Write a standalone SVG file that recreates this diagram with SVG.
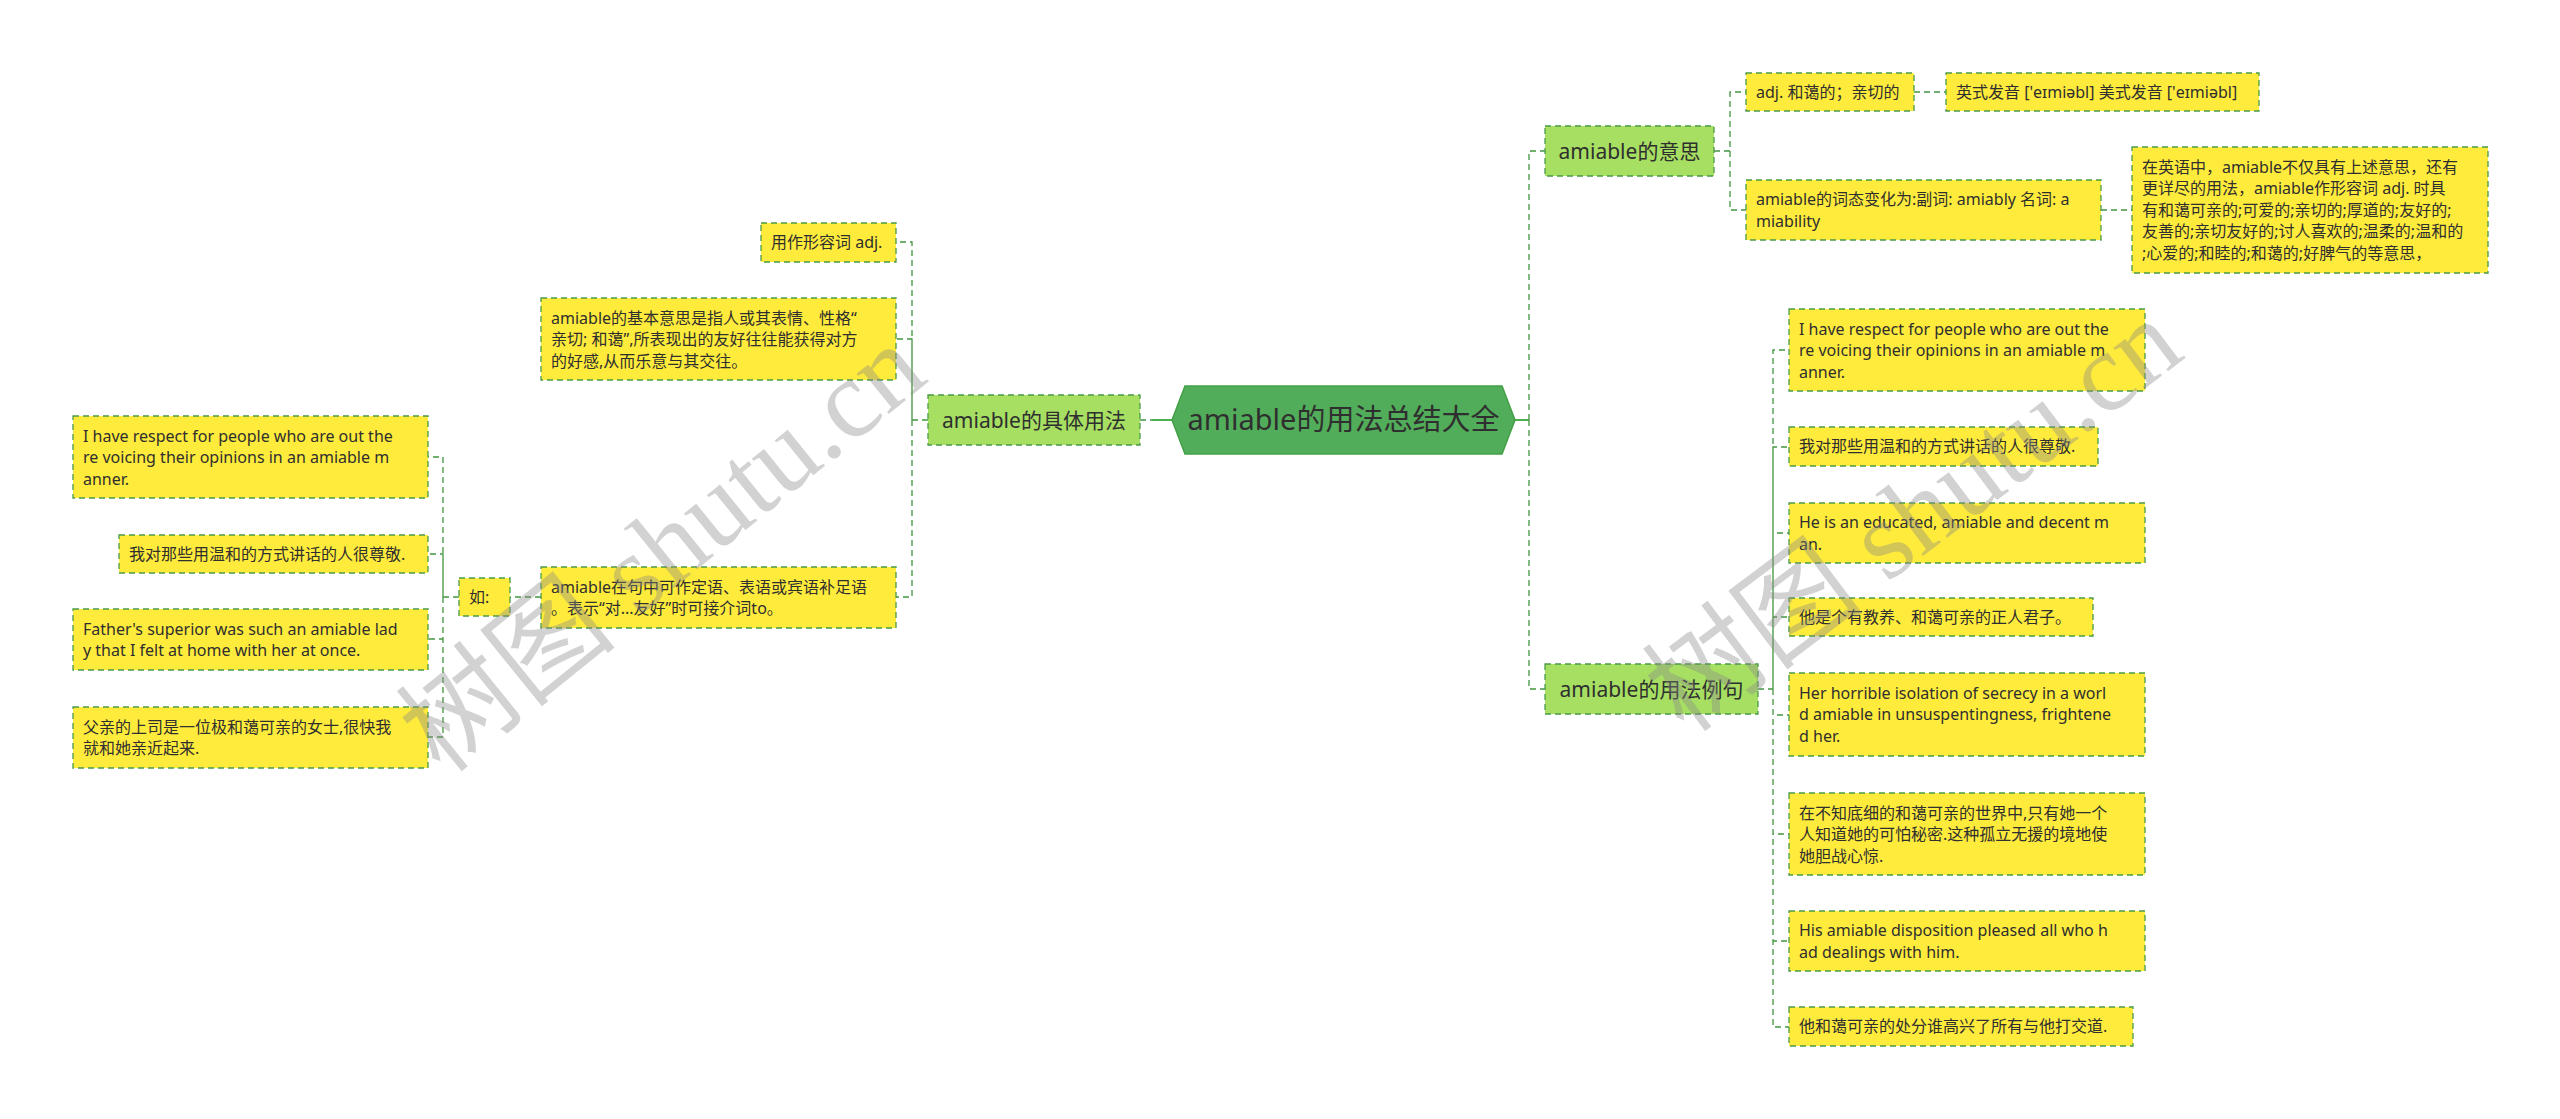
<svg xmlns="http://www.w3.org/2000/svg" width="2560" height="1119" viewBox="0 0 2560 1119">
<style>
.t{font-family:"Noto Sans","Noto Sans CJK SC",sans-serif;font-size:16px;fill:#2f2f2f}
.t1{font-family:"Noto Sans","Noto Sans CJK SC",sans-serif;font-size:21px;fill:#2f2f2f}
.t0{font-family:"Noto Sans","Noto Sans CJK SC",sans-serif;font-size:29px;fill:#2f2f2f}
.leaf{fill:#ffeb3b;stroke:#4a9b48;stroke-width:1.3;stroke-dasharray:6,4}
.l1{fill:#a6df62;stroke:#4a9b48;stroke-width:1.3;stroke-dasharray:6,4}
.root{fill:#52ad5a;stroke:#43a047;stroke-width:1.5}
.c{fill:none;stroke:#43963f;stroke-width:1.3;stroke-dasharray:6,4}
.cs{fill:none;stroke:#4caf50;stroke-width:2}
.wm{font-family:"Liberation Serif","Noto Sans CJK SC",serif;font-size:112px;fill:#8a8a8a;fill-opacity:0.38}
</style>
<rect width="2560" height="1119" fill="#ffffff"/>
<g id="connectors">
<path class="c" d="M1140,420 H1172"/>
<path class="cs" d="M1152,420 H1172"/>
<path class="cs" d="M1515,420 H1529"/>
<path class="c" d="M1529,420 V151 H1545 M1529,420 V689 H1545"/>
<path class="c" d="M928,420 H912 V242 H896 M912,420 V339 H896 M912,420 V597 H896"/>
<path class="c" d="M541,597 H510"/>
<path class="c" d="M459,597 H443 V457 H428 M443,597 V554 H428 M443,597 V639 H428 M443,597 V737 H428"/>
<path class="c" d="M1714,151 H1730 V92 H1746 M1730,151 V210 H1746"/>
<path class="c" d="M1914,92 H1946"/>
<path class="c" d="M2101,210 H2132"/>
<path class="c" d="M1758,689 H1773 V350 H1789 M1773,689 V447 H1789 M1773,689 V533 H1789 M1773,689 V617 H1789 M1773,689 V715 H1789 M1773,689 V834 H1789 M1773,689 V941 H1789 M1773,689 V1027 H1789"/>
</g>
<g id="root">
<polygon class="root" points="1172,420 1185,386 1502,386 1515,420 1502,454 1185,454"/>
<text class="t0" x="1343.5" y="430" text-anchor="middle">amiable的用法总结大全</text>
</g>
<g id="n-usage">
<rect class="l1" x="928" y="395" width="212" height="50"/>
<text class="t1" x="1034" y="427.5" text-anchor="middle">amiable的具体用法</text>
</g>
<g id="n-meaning">
<rect class="l1" x="1545" y="126" width="169" height="50"/>
<text class="t1" x="1629.5" y="158.5" text-anchor="middle">amiable的意思</text>
</g>
<g id="n-examples">
<rect class="l1" x="1545" y="664" width="213" height="50"/>
<text class="t1" x="1651.5" y="696.5" text-anchor="middle">amiable的用法例句</text>
</g>
<g id="n-adjuse">
<rect class="leaf" x="761" y="223" width="135" height="39"/>
<text class="t" x="771" y="248">用作形容词 adj.</text>
</g>
<g id="n-basic">
<rect class="leaf" x="541" y="298" width="355" height="82"/>
<text class="t" x="551" y="323.5">amiable的基本意思是指人或其表情、性格“</text>
<text class="t" x="551" y="345">亲切; 和蔼”,所表现出的友好往往能获得对方</text>
<text class="t" x="551" y="366.5">的好感,从而乐意与其交往。</text>
</g>
<g id="n-syntax">
<rect class="leaf" x="541" y="567" width="355" height="61"/>
<text class="t" x="551" y="592.5">amiable在句中可作定语、表语或宾语补足语</text>
<text class="t" x="551" y="614">。表示“对...友好”时可接介词to。</text>
</g>
<g id="n-ru">
<rect class="leaf" x="459" y="578" width="51" height="38"/>
<text class="t" x="469" y="602.5">如:</text>
</g>
<g id="n-l-ex1">
<rect class="leaf" x="73" y="416" width="355" height="82"/>
<text class="t" x="83" y="441.5">I have respect for people who are out the</text>
<text class="t" x="83" y="463">re voicing their opinions in an amiable m</text>
<text class="t" x="83" y="484.5">anner.</text>
</g>
<g id="n-l-ex1cn">
<rect class="leaf" x="119" y="535" width="309" height="38"/>
<text class="t" x="129" y="559.5">我对那些用温和的方式讲话的人很尊敬.</text>
</g>
<g id="n-l-ex2">
<rect class="leaf" x="73" y="609" width="355" height="61"/>
<text class="t" x="83" y="634.5">Father's superior was such an amiable lad</text>
<text class="t" x="83" y="656">y that I felt at home with her at once.</text>
</g>
<g id="n-l-ex2cn">
<rect class="leaf" x="73" y="707" width="355" height="61"/>
<text class="t" x="83" y="732.5">父亲的上司是一位极和蔼可亲的女士,很快我</text>
<text class="t" x="83" y="754">就和她亲近起来.</text>
</g>
<g id="n-adj">
<rect class="leaf" x="1746" y="73" width="168" height="38"/>
<text class="t" x="1756" y="97.5">adj. 和蔼的；亲切的</text>
</g>
<g id="n-pron">
<rect class="leaf" x="1946" y="73" width="313" height="38"/>
<text class="t" x="1956" y="97.5">英式发音 ['eɪmiəbl] 美式发音 ['eɪmiəbl]</text>
</g>
<g id="n-forms">
<rect class="leaf" x="1746" y="180" width="355" height="60"/>
<text class="t" x="1756" y="205">amiable的词态变化为:副词: amiably 名词: a</text>
<text class="t" x="1756" y="226.5">miability</text>
</g>
<g id="n-english">
<rect class="leaf" x="2132" y="147" width="356" height="126"/>
<text class="t" x="2142" y="172.5">在英语中，amiable不仅具有上述意思，还有</text>
<text class="t" x="2142" y="194">更详尽的用法，amiable作形容词 adj. 时具</text>
<text class="t" x="2142" y="215.5">有和蔼可亲的;可爱的;亲切的;厚道的;友好的;</text>
<text class="t" x="2142" y="237">友善的;亲切友好的;讨人喜欢的;温柔的;温和的</text>
<text class="t" x="2142" y="258.5">;心爱的;和睦的;和蔼的;好脾气的等意思，</text>
</g>
<g id="n-r-ex1">
<rect class="leaf" x="1789" y="309" width="356" height="82"/>
<text class="t" x="1799" y="334.5">I have respect for people who are out the</text>
<text class="t" x="1799" y="356">re voicing their opinions in an amiable m</text>
<text class="t" x="1799" y="377.5">anner.</text>
</g>
<g id="n-r-ex1cn">
<rect class="leaf" x="1789" y="427" width="309" height="39"/>
<text class="t" x="1799" y="452">我对那些用温和的方式讲话的人很尊敬.</text>
</g>
<g id="n-r-ex2">
<rect class="leaf" x="1789" y="503" width="356" height="60"/>
<text class="t" x="1799" y="528">He is an educated, amiable and decent m</text>
<text class="t" x="1799" y="549.5">an.</text>
</g>
<g id="n-r-ex2cn">
<rect class="leaf" x="1789" y="598" width="304" height="38"/>
<text class="t" x="1799" y="622.5">他是个有教养、和蔼可亲的正人君子。</text>
</g>
<g id="n-r-ex3">
<rect class="leaf" x="1789" y="673" width="356" height="83"/>
<text class="t" x="1799" y="698.5">Her horrible isolation of secrecy in a worl</text>
<text class="t" x="1799" y="720">d amiable in unsuspentingness, frightene</text>
<text class="t" x="1799" y="741.5">d her.</text>
</g>
<g id="n-r-ex3cn">
<rect class="leaf" x="1789" y="793" width="356" height="82"/>
<text class="t" x="1799" y="818.5">在不知底细的和蔼可亲的世界中,只有她一个</text>
<text class="t" x="1799" y="840">人知道她的可怕秘密.这种孤立无援的境地使</text>
<text class="t" x="1799" y="861.5">她胆战心惊.</text>
</g>
<g id="n-r-ex4">
<rect class="leaf" x="1789" y="911" width="356" height="60"/>
<text class="t" x="1799" y="936">His amiable disposition pleased all who h</text>
<text class="t" x="1799" y="957.5">ad dealings with him.</text>
</g>
<g id="n-r-ex4cn">
<rect class="leaf" x="1789" y="1007" width="344" height="39"/>
<text class="t" x="1799" y="1032">他和蔼可亲的处分谁高兴了所有与他打交道.</text>
</g>
<g id="watermarks">
<text class="wm" x="661" y="587" text-anchor="middle" transform="rotate(-39 661 547)">树图 shutu.cn</text>
<text class="wm" x="1912" y="554" text-anchor="middle" transform="rotate(-37 1912 514)">树图 shutu.cn</text>
</g>
</svg>
